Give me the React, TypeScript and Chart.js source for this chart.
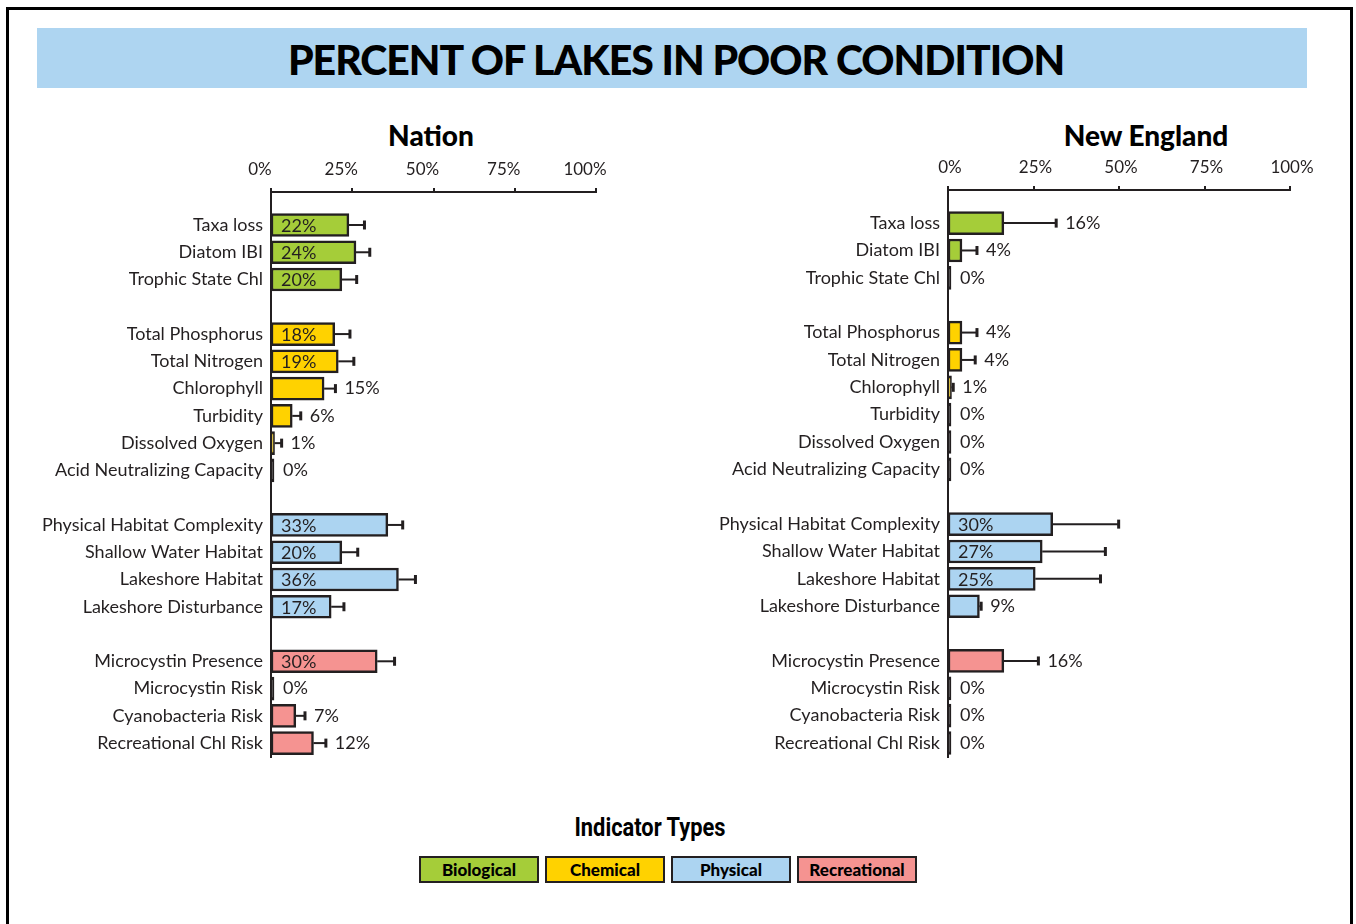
import React, { useEffect, useRef } from 'react';
import { Chart, registerables } from 'chart.js';

Chart.register(...registerables);

// ---------------- data ----------------
const indicators = [
  'Taxa loss', 'Diatom IBI', 'Trophic State Chl',
  'Total Phosphorus', 'Total Nitrogen', 'Chlorophyll', 'Turbidity', 'Dissolved Oxygen', 'Acid Neutralizing Capacity',
  'Physical Habitat Complexity', 'Shallow Water Habitat', 'Lakeshore Habitat', 'Lakeshore Disturbance',
  'Microcystin Presence', 'Microcystin Risk', 'Cyanobacteria Risk', 'Recreational Chl Risk',
];
const indicatorTypes = [
  'Biological', 'Biological', 'Biological',
  'Chemical', 'Chemical', 'Chemical', 'Chemical', 'Chemical', 'Chemical',
  'Physical', 'Physical', 'Physical', 'Physical',
  'Recreational', 'Recreational', 'Recreational', 'Recreational',
];
const typeNames = ['Biological', 'Chemical', 'Physical', 'Recreational'];
const typeColors = ['#a5cd39', '#ffd200', '#acd4f1', '#f59391'];

const nationValues = [22, 24, 20, 18, 19, 15, 6, 1, 0, 33, 20, 36, 17, 30, 0, 7, 12];
const nationUpper = [26.4, 27.9, 24.2, 22.3, 23.4, 18.2, 8.4, 3.0, null, 37.2, 24.5, 40.8, 20.6, 34.9, null, 9.6, 15.5];
const neValues = [16, 4, 0, 4, 4, 1, 0, 0, 0, 30, 27, 25, 9, 16, 0, 0, 0];
const neUpper = [31.0, 8.3, null, 8.3, 7.8, 1.5, null, null, null, 48.9, 45.1, 43.7, 9.5, 25.9, null, null, null];

const axisTicks = [0, 25, 50, 75, 100];

const mainTitle = 'PERCENT OF LAKES IN POOR CONDITION';
const legendTitle = 'Indicator Types';

// ---------------- helpers ----------------
const INK = '#231f20';
const FONT = 'Lato, "Open Sans", sans-serif';

// row index: skip one blank row between indicator types
const rows = indicators.map((_, i) => i + typeNames.indexOf(indicatorTypes[i]));
const labelForRow = (v: number) => {
  const k = rows.indexOf(Math.round(v));
  return Math.abs(v - Math.round(v)) < 1e-6 && k >= 0 ? indicators[k] : '';
};

type PanelProps = {
  values: number[];
  upper: (number | null)[];
  barMax: number;
  left: number;
  top: number;
  width: number;
  height: number;
  yAxisWidth: number;
  xAxisHeight: number;
  padRight: number;
  padBottom: number;
  tickLabelOffset: number;
};

function Panel(p: PanelProps) {
  const ref = useRef<HTMLCanvasElement | null>(null);
  useEffect(() => {
    if (!ref.current) return;
    const annotate = {
      id: 'annotate',
      afterDatasetsDraw(chart: any) {
        const { ctx } = chart;
        const meta = chart.getDatasetMeta(0);
        const xs = chart.scales.xb;
        meta.data.forEach((bar: any, i: number) => {
          const v = p.values[i];
          const up = p.upper[i];
          const { x, y, base } = bar.getProps(['x', 'y', 'base'], true);
          let end = x;
          ctx.save();
          if (up != null) {
            const xe = xs.getPixelForValue(up);
            ctx.strokeStyle = INK;
            ctx.lineWidth = 2;
            ctx.beginPath();
            ctx.moveTo(x, y);
            ctx.lineTo(xe, y);
            ctx.stroke();
            ctx.lineWidth = 3;
            ctx.beginPath();
            ctx.moveTo(xe, y - 4.5);
            ctx.lineTo(xe, y + 4.5);
            ctx.stroke();
            end = Math.max(end, xe);
          }
          ctx.font = `18px ${FONT}`;
          ctx.fillStyle = INK;
          ctx.textBaseline = 'middle';
          ctx.textAlign = 'left';
          const text = `${v}%`;
          if (v >= 17) ctx.fillText(text, base + 10, y + 1);
          else ctx.fillText(text, end + 9, y);
          ctx.restore();
        });
      },
    };

    const chart = new Chart(ref.current, {
      type: 'bar',
      data: {
        datasets: [
          {
            data: p.values.map((v, i) => ({ x: v, y: rows[i] })),
            backgroundColor: p.values.map((v, i) =>
              v === 0 ? INK : typeColors[typeNames.indexOf(indicatorTypes[i])]
            ),
            borderColor: INK,
            borderWidth: 2.5,
            borderSkipped: false,
            barThickness: 23,
            minBarLength: 3,
            xAxisID: 'xb',
            yAxisID: 'y',
          } as any,
        ],
      },
      options: {
        indexAxis: 'y',
        responsive: false,
        animation: false,
        layout: { padding: { left: 0, top: 0, right: p.padRight, bottom: p.padBottom } },
        plugins: { legend: { display: false }, tooltip: { enabled: false }, title: { display: false } },
        scales: {
          x: {
            type: 'linear',
            position: 'top',
            min: 0,
            max: 100,
            afterBuildTicks: (s: any) => {
              s.ticks = axisTicks.map((v) => ({ value: v }));
            },
            afterFit: (s: any) => {
              s.height = p.xAxisHeight;
            },
            ticks: {
              callback: (v: any) => `${v}%`,
              color: INK,
              font: { family: FONT, size: 17 },
              padding: 8,
              labelOffset: p.tickLabelOffset,
              maxRotation: 0,
              autoSkip: false,
            },
            grid: { drawOnChartArea: false, drawTicks: true, tickLength: 4, color: INK, lineWidth: 2 },
            border: { display: true, color: INK, width: 2 },
          },
          xb: {
            type: 'linear',
            position: 'top',
            display: false,
            min: 0,
            max: p.barMax,
          },
          y: {
            type: 'linear',
            reverse: true,
            offset: false,
            min: -1.21,
            max: 19.51,
            afterFit: (s: any) => {
              s.width = p.yAxisWidth;
            },
            ticks: {
              stepSize: 1,
              includeBounds: false,
              autoSkip: false,
              callback: (v: any) => labelForRow(Number(v)),
              color: INK,
              font: { family: FONT, size: 18 },
              padding: 0,
            },
            grid: { display: false, offset: false },
            border: { display: true, color: INK, width: 2 },
          },
        },
      } as any,
      plugins: [annotate],
    });
    return () => chart.destroy();
  }, []);

  return (
    <div style={{ position: 'absolute', left: p.left, top: p.top, width: p.width, height: p.height }}>
      <canvas ref={ref} width={p.width} height={p.height} />
    </div>
  );
}

export default function App() {
  return (
    <div
      style={{
        position: 'absolute',
        left: 0,
        top: 0,
        width: 1356,
        height: 924,
        overflow: 'hidden',
        background: '#fff',
        fontFamily: FONT,
        color: INK,
      }}
    >
      <div
        style={{
          position: 'absolute',
          left: 6,
          top: 7,
          width: 1347,
          height: 1000,
          border: '3px solid #000',
          boxSizing: 'border-box',
        }}
      />
      <div
        style={{
          position: 'absolute',
          left: 37,
          top: 28,
          width: 1270,
          height: 60,
          background: '#aed5f1',
          display: 'flex',
          alignItems: 'center',
          justifyContent: 'center',
          fontWeight: 900,
          fontSize: 41,
          color: '#000',
          letterSpacing: -1,
          paddingTop: 3,
          paddingLeft: 8,
          boxSizing: 'border-box',
        }}
      >
        {mainTitle}
      </div>
      <div style={{ position: 'absolute', left: 331, top: 118, width: 200, textAlign: 'center', fontWeight: 900, fontSize: 28, color: '#000' }}>
        Nation
      </div>
      <div style={{ position: 'absolute', left: 1046, top: 118, width: 200, textAlign: 'center', fontWeight: 900, fontSize: 28, color: '#000' }}>
        New England
      </div>

      <Panel
        values={nationValues}
        upper={nationUpper}
        barMax={91.8}
        left={20}
        top={150}
        width={620}
        height={630}
        yAxisWidth={251}
        xAxisHeight={42}
        padRight={44}
        padBottom={23}
        tickLabelOffset={-11}
      />
      <Panel
        values={neValues}
        upper={neUpper}
        barMax={98}
        left={690}
        top={150}
        width={660}
        height={630}
        yAxisWidth={258}
        xAxisHeight={40}
        padRight={60}
        padBottom={23}
        tickLabelOffset={2}
      />

      <div
        style={{
          position: 'absolute',
          left: 500,
          top: 812,
          width: 300,
          textAlign: 'center',
          fontFamily: 'Roboto, sans-serif',
          fontWeight: 700,
          fontSize: 26,
          color: '#000',
          transform: 'scaleX(0.84)',
          transformOrigin: '150px 0',
        }}
      >
        {legendTitle}
      </div>
      {typeNames.map((t, i) => (
        <div
          key={t}
          style={{
            position: 'absolute',
            left: 419 + i * 126,
            top: 856,
            width: 120,
            height: 27,
            boxSizing: 'border-box',
            border: `2px solid ${INK}`,
            background: typeColors[i],
            display: 'flex',
            alignItems: 'center',
            justifyContent: 'center',
            fontWeight: 900,
            fontSize: 17,
            color: '#000',
          }}
        >
          {t}
        </div>
      ))}
    </div>
  );
}
